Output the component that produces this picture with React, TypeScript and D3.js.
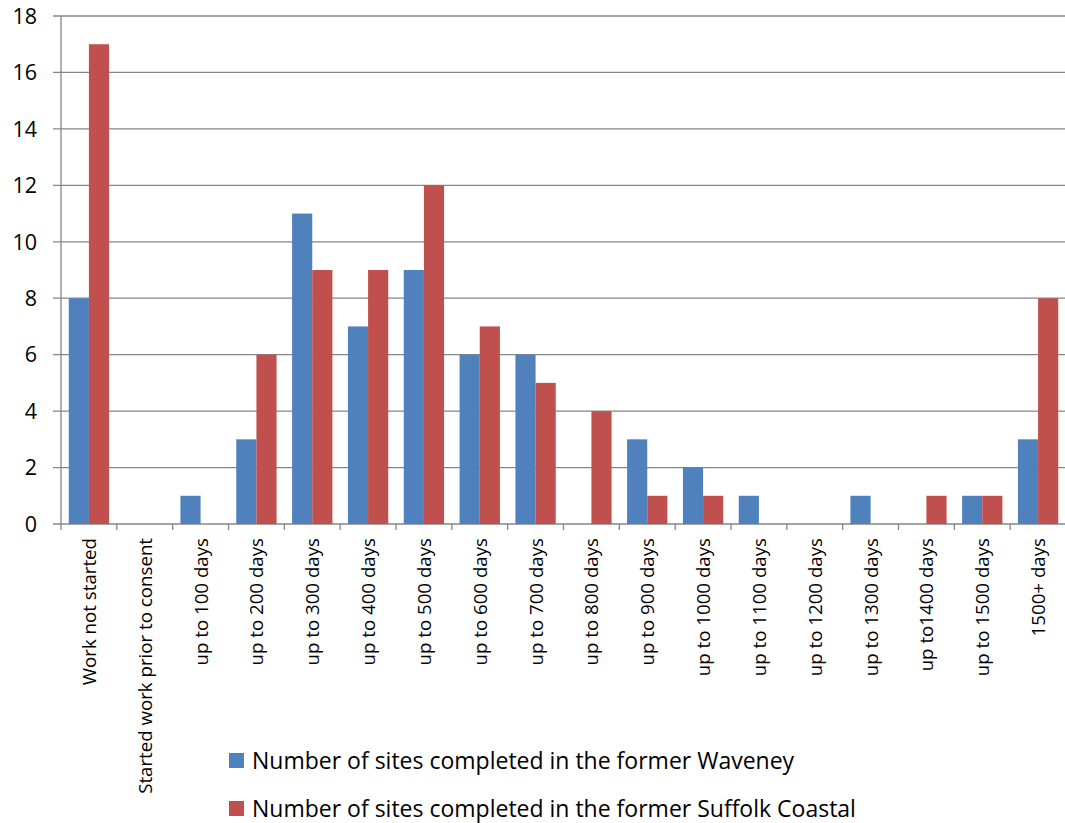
import React from "react";
import * as d3 from "d3";

const categories = [
  "Work not started",
  "Started work prior to consent",
  "up to 100 days",
  "up to 200 days",
  "up to 300 days",
  "up to 400 days",
  "up to 500 days",
  "up to 600 days",
  "up to 700 days",
  "up to 800 days",
  "up to 900 days",
  "up to 1000 days",
  "up to 1100 days",
  "up to 1200 days",
  "up to 1300 days",
  "up to1400 days",
  "up to 1500 days",
  "1500+ days",
];
const waveney = [8, 0, 1, 3, 11, 7, 9, 6, 6, 0, 3, 2, 1, 0, 1, 0, 1, 3];
const suffolk = [17, 0, 0, 6, 9, 9, 12, 7, 5, 4, 1, 1, 0, 0, 0, 1, 1, 8];
const seriesNames = [
  "Number of sites completed in the former Waveney",
  "Number of sites completed in the former Suffolk Coastal",
];
const colors = ["#4F81BD", "#C0504D"];
const yTicks = [0, 2, 4, 6, 8, 10, 12, 14, 16, 18];

const W = 1065;
const H = 823;
const left = 61;
const right = 1066;
const top = 16;
const bottom = 524;
const font = "'Open Sans', sans-serif";

export default function App() {
  const x = d3.scaleBand<string>().domain(categories).range([left, right]).paddingInner(0).paddingOuter(0);
  const inner = d3.scaleBand<number>().domain([0, 1]).range([0, x.bandwidth()]).paddingOuter(0.385).paddingInner(0);
  const y = d3.scaleLinear().domain([0, 18]).range([bottom, top]);
  const series = [waveney, suffolk];
  return (
    <svg width={W} height={H} style={{ position: "absolute", left: 0, top: 0, background: "#fff" }}>
      {yTicks.map((t) => (
        <g key={t}>
          <line x1={53} x2={right} y1={y(t)} y2={y(t)} stroke="#868686" strokeWidth={1.3} />
          <text x={37} y={y(t)} dy="0.36em" textAnchor="end" fontFamily={font} fontSize={21.5} fill="#000">
            {t}
          </text>
        </g>
      ))}
      <line x1={left} x2={left} y1={top} y2={bottom + 6} stroke="#868686" strokeWidth={1.3} />
      {categories.map((c, i) => (
        <line key={"t" + i} x1={x(c)! + x.bandwidth()} x2={x(c)! + x.bandwidth()} y1={bottom} y2={bottom + 6} stroke="#868686" strokeWidth={1.3} />
      ))}
      {series.map((s, si) =>
        s.map((v, i) =>
          v > 0 ? (
            <rect
              key={si + "-" + i}
              x={x(categories[i])! + inner(si)!}
              y={y(v)}
              width={inner.bandwidth()}
              height={y(0) - y(v)}
              fill={colors[si]}
            />
          ) : null
        )
      )}
      {categories.map((c, i) => {
        const cx = x(c)! + x.bandwidth() / 2;
        return (
          <text
            key={"l" + i}
            transform={`translate(${cx + 7},${538}) rotate(-90)`}
            textAnchor="end"
            fontFamily={font}
            fontSize={18.7}
            fill="#000"
          >
            {c}
          </text>
        );
      })}
      {seriesNames.map((n, i) => (
        <g key={"lg" + i} transform={`translate(229,${753 + i * 48})`}>
          <rect x={0} y={0} width={15} height={15} fill={colors[i]} />
          <text x={23} y={8} dy="0.33em" fontFamily={font} fontSize={23} fill="#000">
            {n}
          </text>
        </g>
      ))}
    </svg>
  );
}
